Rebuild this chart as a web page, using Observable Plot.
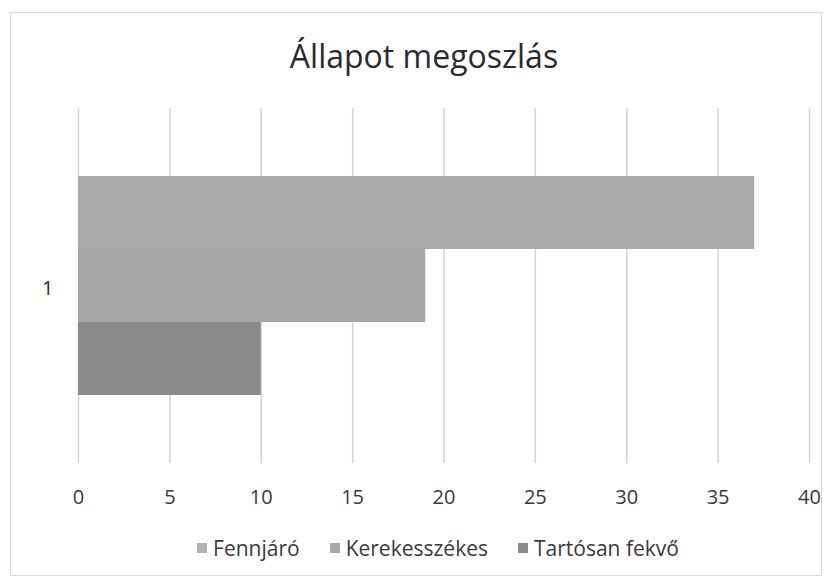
<!DOCTYPE html>
<html>
<head>
<meta charset="utf-8">
<script src="https://cdn.jsdelivr.net/npm/d3@7"></script>
<script src="https://cdn.jsdelivr.net/npm/@observablehq/plot@0.6"></script>
<style>
  html, body { margin: 0; padding: 0; background: #fff; }
  body { width: 826px; height: 580px; position: relative; overflow: hidden; font-family: "Open Sans", "Noto Sans", sans-serif; }
  #frame { position: absolute; left: 10px; top: 12px; width: 812px; height: 564px; border: 1.5px solid #d9d9d9; box-sizing: border-box; }
  #title { position: absolute; left: 0; width: 848px; top: 34px; text-align: center; font-size: 32px; line-height: 44px; color: #2b2b2b; }
  #chart { position: absolute; left: 0; top: 90px; }
  #legend { position: absolute; left: 0; width: 876px; top: 534px; display: flex; justify-content: center; gap: 30px; font-size: 21px; line-height: 28px; color: #3a3a3a; }
  .item { display: flex; align-items: center; gap: 6px; }
  .sw { width: 10px; height: 10px; display: inline-block; }
</style>
</head>
<body>
<div id="frame"></div>
<div id="title">Állapot megoszlás</div>
<div id="chart"></div>
<div id="legend"></div>
<script>
const categories = ["1"];
const series = ["Fennjáró", "Kerekesszékes", "Tartósan fekvő"];
const values = [37, 19, 10];
const colors = ["#aaaaaa", "#a6a6a6", "#8b8b8b"];
const legendColors = ["#b2b2b2", "#a9a9a9", "#8a8a8a"];
const xTicks = [0, 5, 10, 15, 20, 25, 30, 35, 40];

const rows = series.map((s, i) => ({category: categories[0], series: s, value: values[i]}));

const plot = Plot.plot({
  width: 826,
  height: 430,
  marginLeft: 78,
  marginRight: 17,
  marginTop: 18,
  marginBottom: 57,
  style: {fontFamily: "'Open Sans', 'Noto Sans', sans-serif", fontSize: "20px", color: "#3a3a3a", background: "transparent"},
  x: {domain: [0, 40], ticks: xTicks, tickSize: 0, tickPadding: 26, label: null, tickFormat: d => String(d)},
  y: {domain: series, paddingInner: 0, paddingOuter: 0.93, axis: null},
  fy: {domain: categories, paddingInner: 0, paddingOuter: 0, label: null, axis: null},
  color: {domain: series, range: colors},
  marks: [
    Plot.gridX(xTicks, {stroke: "#d4d4d4", strokeOpacity: 1, strokeWidth: 1.5}),
    Plot.barX(rows, {x: "value", y: "series", fy: "category", fill: "series"}),
    Plot.axisFy({anchor: "left", tickSize: 0, tickPadding: 25, label: null, fill: "#2b2b2b", dy: 3})
  ]
});
document.getElementById("chart").appendChild(plot);

const legend = document.getElementById("legend");
series.forEach((s, i) => {
  const item = document.createElement("div");
  item.className = "item";
  const sw = document.createElement("span");
  sw.className = "sw";
  sw.style.background = legendColors[i];
  const label = document.createElement("span");
  label.textContent = s;
  item.appendChild(sw);
  item.appendChild(label);
  legend.appendChild(item);
});
</script>
</body>
</html>
